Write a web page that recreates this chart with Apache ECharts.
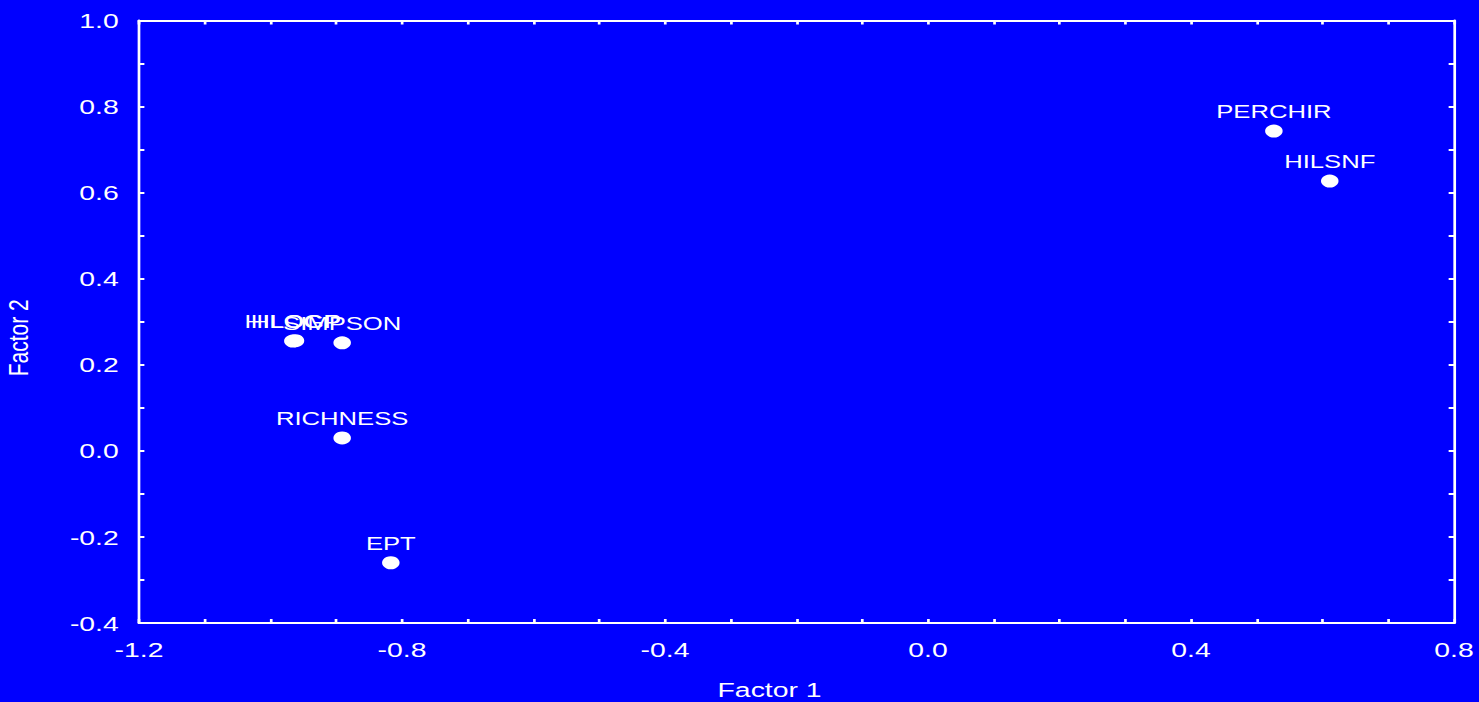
<!DOCTYPE html>
<html lang="en">

<head>
    <meta charset="UTF-8">
    <title>Factor 1 vs Factor 2</title>
    <script src="https://cdn.jsdelivr.net/npm/echarts@6/dist/echarts.min.js"></script>
    <style>
        html, body { margin: 0; padding: 0; background: #0000ff; overflow: hidden; }
        /* the reference is stretched sideways, so draw narrow and stretch the whole chart */
        #chart { width: 1096px; height: 702px; transform: scaleX(1.34945); transform-origin: 0 0; }
    </style>
</head>

<body>
    <div id="chart"></div>
    <script>
        // variable names and their loadings
        let names = ['PERCHIR', 'HILSNF', 'HILOGP', 'HLOGP', 'SIMPSON', 'RICHNESS', 'EPT'];
        let factor1 = [0.526, 0.611, -0.966, -0.962, -0.891, -0.891, -0.817];
        let factor2 = [0.743, 0.627, 0.255, 0.256, 0.251, 0.030, -0.260];

        let xMin = -1.2, xMax = 0.8, xStep = 0.4;
        let yMin = -0.4, yMax = 1.0, yStep = 0.2;

        let myChart = echarts.init(document.getElementById('chart'), null, { renderer: 'svg' });

        let font = 'Liberation Sans';
        let fmt = function (v) {
            if (Math.abs(v) < 1e-9) return '0.0';
            return Number(v).toFixed(1);
        };

        let points = [];
        for (let i = 0; i < names.length; i++) {
            points.push({ name: names[i], value: [factor1[i], factor2[i]] });
        }

        let lineStyle = { color: '#ffffff', width: 2 };

        let option = {
            backgroundColor: '#0000ff',
            animation: false,
            grid: { left: 103, right: 18.5, top: 20.5, bottom: 79, outerBoundsMode: 'none' },
            xAxis: [
                {
                    type: 'value',
                    min: xMin, max: xMax, interval: xStep,
                    name: 'Factor 1',
                    nameLocation: 'middle',
                    nameGap: 56,
                    nameTextStyle: { color: '#ffffff', fontSize: 21, fontFamily: font, padding: [0, 40, 0, 0] },
                    axisLine: { show: true, onZero: false, lineStyle: lineStyle },
                    axisTick: { show: true, inside: true, length: 4, lineStyle: lineStyle },
                    minorTick: { show: true, splitNumber: 4, length: 4, lineStyle: lineStyle },
                    axisLabel: { color: '#ffffff', fontSize: 21, fontFamily: font, margin: 16, formatter: fmt },
                    splitLine: { show: false }
                },
                {
                    type: 'value', position: 'top',
                    min: xMin, max: xMax, interval: xStep,
                    axisLine: { show: true, onZero: false, lineStyle: lineStyle },
                    axisTick: { show: true, inside: true, length: 4, lineStyle: lineStyle },
                    minorTick: { show: true, splitNumber: 4, length: 4, lineStyle: lineStyle },
                    axisLabel: { show: false },
                    splitLine: { show: false }
                }
            ],
            yAxis: [
                {
                    type: 'value',
                    min: yMin, max: yMax, interval: yStep,
                    name: 'Factor 2',
                    nameLocation: 'middle',
                    nameGap: 79,
                    nameTextStyle: { color: '#ffffff', fontSize: 21, fontFamily: font, padding: [0, 32, 0, 0] },
                    axisLine: { show: true, onZero: false, lineStyle: lineStyle },
                    axisTick: { show: true, inside: true, length: 4, lineStyle: lineStyle },
                    minorTick: { show: true, splitNumber: 2, length: 4, lineStyle: lineStyle },
                    axisLabel: { color: '#ffffff', fontSize: 21, fontFamily: font, margin: 15, formatter: fmt },
                    splitLine: { show: false }
                },
                {
                    type: 'value', position: 'right',
                    min: yMin, max: yMax, interval: yStep,
                    axisLine: { show: true, onZero: false, lineStyle: lineStyle },
                    axisTick: { show: true, inside: true, length: 4, lineStyle: lineStyle },
                    minorTick: { show: true, splitNumber: 2, length: 4, lineStyle: lineStyle },
                    axisLabel: { show: false },
                    splitLine: { show: false }
                }
            ],
            series: [
                {
                    type: 'scatter',
                    data: points,
                    symbol: 'circle',
                    symbolSize: 13,
                    itemStyle: { color: '#ffffff', opacity: 1 },
                    label: {
                        show: true,
                        position: 'top',
                        distance: 3,
                        formatter: '{b}',
                        color: '#ffffff',
                        fontSize: 19,
                        fontFamily: font
                    }
                }
            ]
        };

        myChart.setOption(option);
    </script>
</body>

</html>
